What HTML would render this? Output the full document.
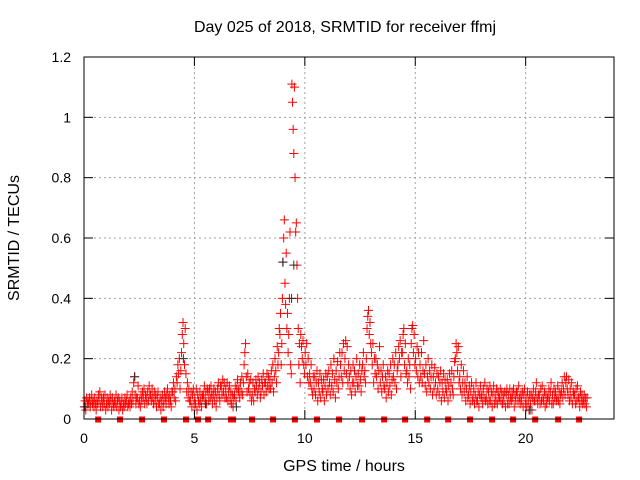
<!DOCTYPE html>
<html><head><meta charset="utf-8"><style>
body{margin:0;background:#fff}
svg{display:block;font-family:"Liberation Sans",sans-serif}
</style></head><body>
<svg id="chart" width="640" height="480" viewBox="0 0 640 480" xmlns="http://www.w3.org/2000/svg">
<rect width="640" height="480" fill="#fff"/>
<text x="345" y="32" font-size="16" text-anchor="middle">Day 025 of 2018, SRMTID for receiver ffmj</text>
<text x="19" y="238" font-size="16" text-anchor="middle" transform="rotate(-90 19 238)">SRMTID / TECUs</text>
<text x="344" y="471" font-size="16" text-anchor="middle">GPS time / hours</text>
<g id="grid"></g>
<g id="marks"></g>
<rect x="84" y="57" width="530" height="362" fill="none" stroke="#000" stroke-width="1"/>
<g id="axes"></g>
</svg>
<script>
const xTicks=[0,5,10,15,20];
const yTicks=[0,0.2,0.4,0.6,0.8,1,1.2];
const yTickLabels=["0","0.2","0.4","0.6","0.8","1","1.2"];
const binStart=0, binWidth=0.2;
const binValues=[
[4,6,3,7,5,6],[5,7,4,6,8,5],[6,4,7,5,3,6],[5,8,6,9,4,7],[6,4,7,5,8,3],
[5,7,4,6,5,8],[6,3,7,5,4,6],[5,8,4,6,7,3],[6,4,5,7,3,5],[4,7,5,6,8,4],
[5,6,4,7,5,9],[6,12,14,8,5,7],[7,11,5,6,4,8],[6,9,7,10,5,8],[7,5,9,6,11,8],
[8,6,10,7,5,9],[6,8,4,7,9,5],[5,7,3,6,8,4],[6,9,7,5,8,10],[7,5,8,6,4,9],
[9,12,7,10,6,14],[12,18,15,20,10,16],[22,28,32,25,18,30],[15,9,12,7,10,6],[6,9,4,8,10,5],
[7,5,10,3,8,6],[5,9,6,4,8,7],[8,11,6,9,5,10],[9,6,10,7,11,8],[5,8,10,6,9,4],
[7,10,12,8,6,11],[11,8,13,9,12,7],[10,7,12,6,9,11],[6,9,5,8,4,7],[8,11,6,10,13,9],
[10,7,12,9,14,8],[12,18,22,25,14,9],[15,10,12,8,13,6],[8,12,6,10,9,13],[11,8,14,10,12,7],
[9,13,11,15,8,12],[12,9,15,11,14,10],[13,10,16,12,18,9],[14,20,16,12,24,18],[22,30,28,35,18,25,40],
[52,60,66,45,38,55,30],[35,22,28,40,62,18,15],[111,105,96,88,110,80,62],[65,51,40,30,18,25,12],[28,24,20,26,18,15],
[22,18,25,14,20,12],[15,12,18,10,8,14],[10,14,8,12,16,6],[12,9,15,7,13,10],[9,13,6,11,15,8],
[14,10,16,12,8,18],[11,15,9,20,13,7],[16,12,19,10,14,22],[18,14,22,12,25,16],[20,26,15,24,12,18],
[14,10,16,8,12,18],[12,16,9,14,20,11],[15,11,18,13,9,16],[18,22,14,16,12,20],[30,34,36,28,32,25],
[22,18,25,12,20,15],[20,14,18,10,16,24],[12,16,9,14,18,11],[10,14,7,12,16,9],[15,11,18,8,13,20],
[14,18,12,22,10,16],[18,24,20,26,14,22],[22,28,30,18,25,15],[16,12,20,14,18,10],[25,30,31,22,28,18],
[20,16,24,14,22,12],[18,14,22,12,16,26],[15,11,18,9,14,20],[12,16,10,14,18,8],[14,10,17,12,8,15],
[10,14,8,12,16,6],[12,9,15,7,13,10],[9,13,6,11,15,8],[12,16,10,8,14,19],[20,25,22,16,24,12],
[14,10,18,8,12,16],[9,12,6,10,14,7],[8,11,5,9,12,6],[7,10,5,8,12,6],[6,9,4,8,11,7],
[8,5,10,7,12,6],[7,10,5,9,6,11],[6,9,4,8,11,5],[8,6,10,5,9,7],[7,10,6,9,5,8],
[6,9,4,8,10,5],[8,5,10,7,6,9],[7,10,4,8,6,9],[9,6,11,7,5,8],[6,9,4,8,10,5],
[7,4,9,6,3,8],[5,8,3,7,10,6],[6,9,12,7,5,8],[8,5,10,6,11,7],[6,9,4,8,5,7],
[7,10,6,9,12,5],[8,5,10,7,9,6],[7,11,6,9,5,8],[9,12,7,10,14,8],[12,14,10,8,13,6],
[10,7,12,5,9,8],[8,5,10,6,11,7],[7,4,9,6,8,5],[6,8,5,7,4,7]
];
const blackTimes=[0.05,2.3,4.5,5.5,6.9,9.0,9.4,9.5,20.2];
const blackValues=[0.04,0.14,0.2,0.05,0.04,0.52,0.40,0.51,0.03];
const gapTimes=[0.64,1.63,2.63,3.62,4.62,5.16,5.62,6.66,6.75,7.61,8.56,9.55,10.55,11.55,12.59,13.59,14.54,15.54,16.49,17.48,18.48,19.43,20.43,21.47,22.42];

const X0=84,X1=614,Y0=419,Y1=57,XMAX=24,YMAX=1.2;
const xs=t=>X0+t/XMAX*(X1-X0);
const ys=v=>Y0-v/YMAX*(Y0-Y1);
const NS="http://www.w3.org/2000/svg";
function mk(tag,attrs,parent){const e=document.createElementNS(NS,tag);for(const k in attrs)e.setAttribute(k,attrs[k]);parent.appendChild(e);return e;}
const grid=document.getElementById('grid'),axes=document.getElementById('axes'),marks=document.getElementById('marks');
yTicks.forEach((v,i)=>{
  const y=ys(v);
  if(i>0&&i<yTicks.length-1){const g=mk('line',{x1:X0,x2:X1,y1:y,y2:y,stroke:'#a0a0a0','stroke-dasharray':'2,3'},grid);
  
  }
  const t1=mk('line',{x1:X0,x2:X0+9,y1:y,y2:y,stroke:'#000'},axes);
  
  
  mk('line',{x1:X1-9,x2:X1,y1:y,y2:y,stroke:'#000'},axes);
  const lb=mk('text',{x:X0-13,y:y+5,'font-size':14,'text-anchor':'end'},axes);
  lb.textContent=yTickLabels[i];
  
  
});
xTicks.forEach(v=>{
  const x=xs(v);
  if(v>0){const g=mk('line',{x1:x,x2:x,y1:Y1,y2:Y0,stroke:'#a0a0a0','stroke-dasharray':'2,3'},grid);
  
  }
  const t1=mk('line',{x1:x,x2:x,y1:Y0,y2:Y0-9,stroke:'#000'},axes);
  
  
  mk('line',{x1:x,x2:x,y1:Y1,y2:Y1+9,stroke:'#000'},axes);
  const lb=mk('text',{x:x,y:Y0+24,'font-size':14,'text-anchor':'middle'},axes);
  lb.textContent=String(v);
  
  
});
function plus(t,v,color){
  const x=xs(t),y=ys(v);
  const p=mk('path',{d:`M${x-4.5},${y}h9M${x},${y-4.5}v9`,stroke:color,'stroke-width':1,fill:'none'},marks);
  
  
}
binValues.forEach((bin,b)=>{
  const t0=binStart+b*binWidth;
  bin.forEach((v,i)=>plus(t0+(i+0.5)*binWidth/bin.length,v/100,'#ff0000'));
});
blackTimes.forEach((t,i)=>plus(t,blackValues[i],'#303030'));
gapTimes.forEach(t=>{
  const r=mk('rect',{x:xs(t)-3,y:Y0-2.5,width:6,height:6,fill:'#ff0000'},marks);
  
  
});
</script>
</body></html>
